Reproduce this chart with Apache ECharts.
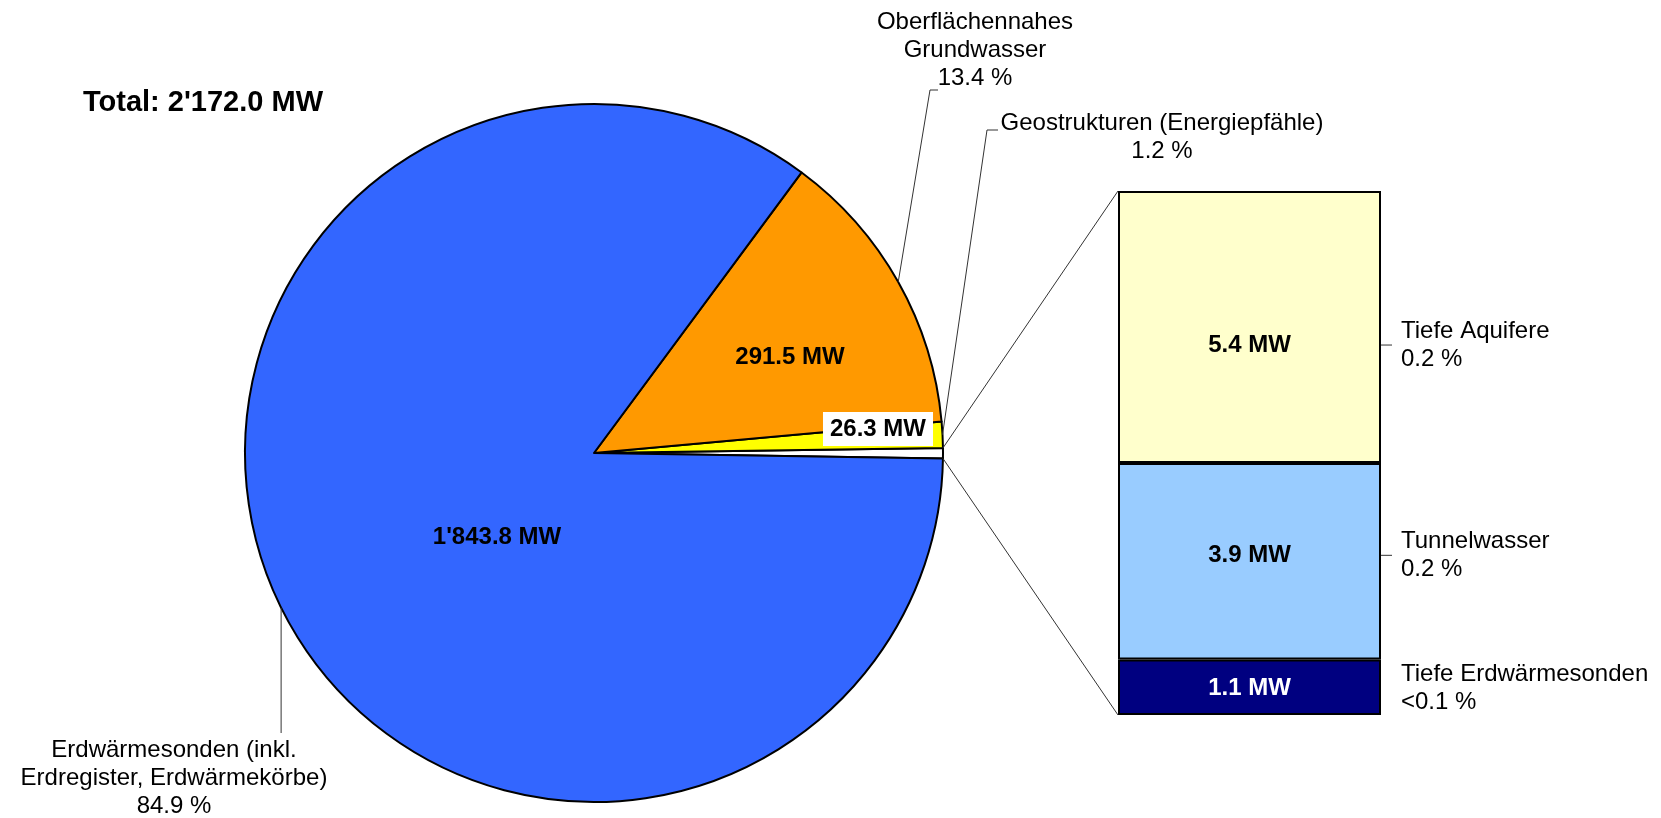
<!DOCTYPE html>
<html>
<head>
<meta charset="utf-8">
<script src="https://cdn.jsdelivr.net/npm/echarts@6/dist/echarts.min.js"></script>
<style>
  html, body { margin: 0; padding: 0; background: #fff; }
  #main { width: 1661px; height: 818px; }
</style>
</head>
<body>
<div id="main"></div>
<script>
// Wärmequellen, installierte Leistung in MW
var pieNames = ['Übrige', 'Geostrukturen (Energiepfähle)', 'Oberflächennahes\nGrundwasser', 'Erdwärmesonden (inkl.\nErdregister, Erdwärmekörbe)'];
var pieValues = [10.4, 26.3, 291.5, 1843.8];
var pieColors = ['#FFFFFF', '#FFFF00', '#FF9900', '#3366FF'];

// Aufteilung des Rests (von unten nach oben)
var barNames = ['Tiefe Erdwärmesonden', 'Tunnelwasser', 'Tiefe Aquifere'];
var barValues = [1.1, 3.9, 5.4];
var barColors = ['#000080', '#99CCFF', '#FFFFCC'];
var barTextColors = ['#FFFFFF', '#000000', '#000000'];

var FONT = 'Liberation Sans, Arial, sans-serif';
var PIE_C = [594, 453], PIE_R = 349, START = -0.9;
var BAR = { left: 1118, top: 191, width: 263, height: 524 };
var barDy = [1, -6, 18];

var total = pieValues.reduce(function (a, b) { return a + b; }, 0);
var barTotal = barValues.reduce(function (a, b) { return a + b; }, 0);

function fmt(v) {
  var p = v.toFixed(1).split('.');
  p[0] = p[0].replace(/\B(?=(\d{3})+(?!\d))/g, "'");
  return p.join('.');
}
function pct(v) {
  var p = v / total * 100;
  return p < 0.1 ? '<0.1 %' : p.toFixed(1) + ' %';
}
function edge(deg) {
  var a = deg * Math.PI / 180;
  return [PIE_C[0] + PIE_R * Math.cos(a), PIE_C[1] - PIE_R * Math.sin(a)];
}
// Winkelgrenzen der Tortenstücke (Gegenuhrzeigersinn)
var bounds = [START];
pieValues.forEach(function (v, i) { bounds.push(bounds[i] + v / total * 360); });
function midAngle(i) { return (bounds[i] + bounds[i + 1]) / 2; }

var innerPos = { 1: [878, 429], 2: [790, 357], 3: [497, 537] };
var outerPos = { 1: [1162, 109], 2: [975, 8], 3: [174, 736] };

var chart = echarts.init(document.getElementById('main'));

var series = [
  {
    type: 'pie',
    center: PIE_C,
    radius: PIE_R,
    startAngle: START,
    clockwise: false,
    avoidLabelOverlap: false,
    silent: true,
    itemStyle: { borderColor: '#000', borderWidth: 2 },
    label: {
      show: true,
      position: 'inside',
      fontFamily: FONT, fontSize: 24, fontWeight: 'bold', color: '#000',
      formatter: function (p) { return p.dataIndex === 0 ? '' : fmt(p.value) + ' MW'; }
    },
    labelLine: { show: false },
    labelLayout: function (p) {
      var pos = innerPos[p.dataIndex];
      if (!pos) return {};
      return { x: pos[0], y: pos[1], align: 'center', verticalAlign: 'middle' };
    },
    data: pieValues.map(function (v, i) {
      var d = { name: pieNames[i], value: v, itemStyle: { color: pieColors[i] } };
      if (i === 1) d.label = { backgroundColor: '#fff', padding: [5, 7] };
      return d;
    })
  },
  {
    type: 'pie',
    center: PIE_C,
    radius: PIE_R,
    startAngle: START,
    clockwise: false,
    avoidLabelOverlap: false,
    silent: true,
    itemStyle: { color: 'rgba(0,0,0,0)', borderWidth: 0 },
    label: {
      show: true,
      position: 'outside',
      fontFamily: FONT, fontSize: 24, lineHeight: 28, color: '#000', align: 'center',
      formatter: function (p) { return p.dataIndex === 0 ? '' : p.name + '\n' + pct(p.value); }
    },
    labelLine: { show: false },
    labelLayout: function (p) {
      var pos = outerPos[p.dataIndex];
      if (!pos) return {};
      return { x: pos[0], y: pos[1], align: 'center', verticalAlign: 'top' };
    },
    data: pieValues.map(function (v, i) { return { name: pieNames[i], value: v }; })
  }
];

barValues.forEach(function (v, i) {
  series.push({
    type: 'bar',
    stack: 'rest',
    barWidth: '100%',
    silent: true,
    itemStyle: { color: barColors[i], borderColor: '#000', borderWidth: 2 },
    label: {
      show: true, position: 'inside', offset: [0, barDy[i]],
      fontFamily: FONT, fontSize: 24, fontWeight: 'bold', color: barTextColors[i],
      formatter: function (p) { return fmt(p.value) + ' MW'; }
    },
    data: [v]
  });
});
barValues.forEach(function (v, i) {
  series.push({
    type: 'bar',
    stack: 'labels',
    barWidth: '100%',
    barGap: '-100%',
    silent: true,
    itemStyle: { color: 'rgba(0,0,0,0)' },
    label: {
      show: true, position: 'right', distance: 20, offset: [0, barDy[i]],
      fontFamily: FONT, fontSize: 24, lineHeight: 28, color: '#000', align: 'left',
      formatter: function () { return barNames[i] + '\n' + pct(v); }
    },
    data: [v]
  });
});

chart.setOption({
  animation: false,
  backgroundColor: '#fff',
  title: {
    text: "Total: " + fmt(total) + " MW",
    left: 78, top: 83,
    textStyle: { fontFamily: FONT, fontSize: 29, fontWeight: 'bold', color: '#000' }
  },
  grid: { left: BAR.left, top: BAR.top, width: BAR.width, height: BAR.height },
  xAxis: { type: 'category', data: [''], show: false },
  yAxis: { type: 'value', min: 0, max: barTotal, show: false },
  series: series
});

// Führungslinien, Verbindungslinien und Markierungen
var lineStyle = { stroke: '#333', lineWidth: 1 };
var g = [];
function poly(pts) { g.push({ type: 'polyline', shape: { points: pts }, style: lineStyle, silent: true, z: 10 }); }

poly([edge(midAngle(2)), [930, 90], [938, 90]]);
poly([edge(midAngle(1)), [987, 130], [998, 130]]);
var pb = edge(midAngle(3));
poly([pb, [pb[0], 733]]);

poly([edge(bounds[1]), [BAR.left, BAR.top]]);
poly([edge(bounds[0]), [BAR.left, BAR.top + BAR.height]]);

var cum = 0;
barValues.forEach(function (v, i) {
  var yMid = chart.convertToPixel({ yAxisIndex: 0 }, cum + v / 2) + barDy[i];
  cum += v;
  if (i === 0) return;
  var x0 = BAR.left + BAR.width;
  g.push({ type: 'line', shape: { x1: x0, y1: yMid, x2: x0 + 11, y2: yMid }, style: lineStyle, silent: true, z: 10 });
});

chart.setOption({ graphic: g });
</script>
</body>
</html>
